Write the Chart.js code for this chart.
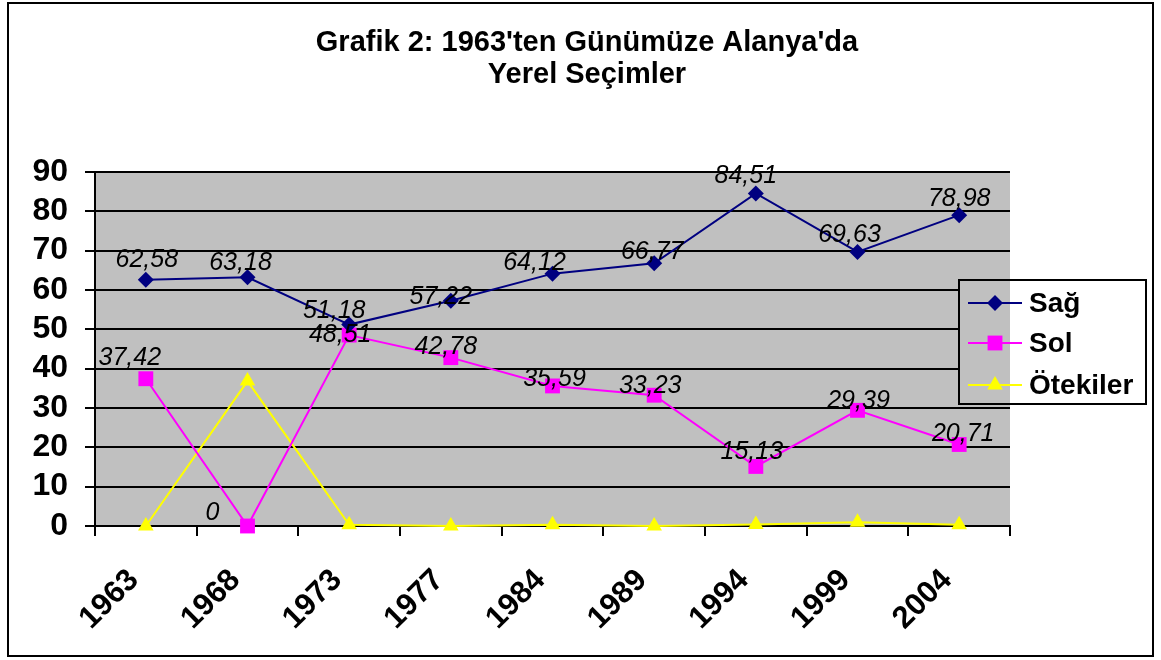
<!DOCTYPE html>
<html>
<head>
<meta charset="utf-8">
<script src="https://cdn.jsdelivr.net/npm/chart.js@4.4.1/dist/chart.umd.min.js"></script>
<style>
  body { margin: 0; background: #fff; }
  #wrap { width: 1161px; height: 660px; }
</style>
</head>
<body>
<div id="wrap"><canvas id="chart"></canvas></div>
<script>
const years = ['1963', '1968', '1973', '1977', '1984', '1989', '1994', '1999', '2004'];
const sag = [62.58, 63.18, 51.18, 57.22, 64.12, 66.77, 84.51, 69.63, 78.98];
const sol = [37.42, 0, 48.51, 42.78, 35.59, 33.23, 15.13, 29.39, 20.71];
const otekiler = [0, 36.82, 0.31, 0, 0.29, 0, 0.36, 0.98, 0.31];
const seriesNames = ['Sağ', 'Sol', 'Ötekiler'];

// where each value label sits relative to its point (px)
const sagShift = [[1, -20], [-7, -14], [-15, -14], [-10, -4], [-18, -11], [-2, -11], [-10, -17], [-8, -17], [0, -16]];
const solShift = [[-16, -21], [-35, -13], [-9, 0], [-5, -11], [2, -7], [-4, -9], [-4, -14], [1, -9], [4, -10]];

const FONT = '"Liberation Sans", Arial, sans-serif';
Chart.defaults.font.family = FONT;
Chart.defaults.color = '#000';

function marker(ctx, style, x, y, r) {
  ctx.beginPath();
  if (style === 'rectRot') {
    ctx.moveTo(x - r, y); ctx.lineTo(x, y - r); ctx.lineTo(x + r, y); ctx.lineTo(x, y + r);
  } else if (style === 'rect') {
    const s = r * Math.SQRT1_2;
    ctx.rect(x - s, y - s, 2 * s, 2 * s);
  } else {
    ctx.moveTo(x, y - r);
    ctx.lineTo(x + r * 0.866, y + r / 2);
    ctx.lineTo(x - r * 0.866, y + r / 2);
  }
  ctx.closePath();
  ctx.fill();
}

const frame = {
  id: 'frame',
  beforeDraw(chart) {
    const { ctx, chartArea: a } = chart;
    ctx.save();
    ctx.fillStyle = '#c0c0c0';
    ctx.fillRect(a.left, a.top, a.right - a.left, a.bottom - a.top);
    ctx.restore();
  },
  afterDraw(chart) {
    const { ctx, chartArea: a } = chart;
    ctx.save();
    // legend box, drawn over the plot like the original
    const lx = 959, ly = 280, lw = 187, lh = 124;
    ctx.fillStyle = '#fff';
    ctx.fillRect(lx, ly, lw, lh);
    ctx.fillStyle = '#c0c0c0';
    ctx.fillRect(lx, ly, a.right - lx, lh);
    ctx.strokeStyle = '#000';
    ctx.lineWidth = 2;
    ctx.strokeRect(lx, ly, lw, lh);
    const rows = [303, 343, 385];
    chart.data.datasets.forEach((ds, i) => {
      const y = rows[i];
      ctx.strokeStyle = ds.borderColor;
      ctx.lineWidth = 2;
      ctx.beginPath(); ctx.moveTo(968, y); ctx.lineTo(1022, y); ctx.stroke();
      ctx.fillStyle = ds.backgroundColor;
      marker(ctx, ds.pointStyle, 995, y, ds.pointRadius);
      ctx.fillStyle = '#000';
      ctx.font = 'bold 28px ' + FONT;
      ctx.textBaseline = 'middle';
      ctx.fillText(ds.label, 1029, y + 1);
    });
    // outer frame
    ctx.strokeStyle = '#000';
    ctx.lineWidth = 2;
    ctx.strokeRect(8, 3, 1145, 653);
    ctx.restore();
  }
};

const valueLabels = {
  id: 'valueLabels',
  afterDatasetsDraw(chart) {
    const ctx = chart.ctx;
    ctx.save();
    ctx.font = 'italic 25px ' + FONT;
    ctx.fillStyle = '#000';
    ctx.textAlign = 'center';
    ctx.textBaseline = 'middle';
    [[0, sagShift], [1, solShift]].forEach(([di, shift]) => {
      const meta = chart.getDatasetMeta(di);
      meta.data.forEach((pt, i) => {
        const txt = String(chart.data.datasets[di].data[i]).replace('.', ',');
        ctx.fillText(txt, pt.x + shift[i][0], pt.y + shift[i][1]);
      });
    });
    ctx.restore();
  }
};

new Chart(document.getElementById('chart').getContext('2d'), {
  type: 'line',
  data: {
    labels: years,
    datasets: [
      { label: seriesNames[0], data: sag, borderColor: '#000080', backgroundColor: '#000080',
        pointStyle: 'rectRot', pointRadius: 8, borderWidth: 2, pointBorderWidth: 0, clip: false },
      { label: seriesNames[1], data: sol, borderColor: '#ff00ff', backgroundColor: '#ff00ff',
        pointStyle: 'rect', pointRadius: 10.5, borderWidth: 2, pointBorderWidth: 0, clip: false },
      { label: seriesNames[2], data: otekiler, borderColor: '#ffff00', backgroundColor: '#ffff00',
        pointStyle: 'triangle', pointRadius: 9, borderWidth: 2, pointBorderWidth: 0, clip: false }
    ]
  },
  options: {
    responsive: true,
    maintainAspectRatio: false,
    animation: false,
    layout: { padding: { left: 13, right: 0, top: 0, bottom: 0 } },
    plugins: {
      legend: { display: false },
      tooltip: { enabled: false },
      title: {
        display: true,
        text: ["Grafik 2: 1963'ten Günümüze Alanya'da", 'Yerel Seçimler'],
        font: { size: 29, weight: 'bold', lineHeight: 1.1 },
        color: '#000',
        padding: { top: 27, bottom: 81 }
      }
    },
    scales: {
      x: {
        offset: true,
        grid: { offset: true, drawOnChartArea: false, color: '#000', lineWidth: 2, tickLength: 10 },
        border: { color: '#000', width: 2 },
        ticks: { font: { size: 31, weight: 'bold' }, color: '#000', maxRotation: 45, minRotation: 45,
          autoSkip: false, padding: 26, labelOffset: -12 },
        afterFit(scale) { scale.height = 134; }
      },
      y: {
        min: 0, max: 90,
        ticks: { stepSize: 10, autoSkip: false, maxTicksLimit: 11,
          font: { size: 32, weight: 'bold', lineHeight: 1 }, color: '#000', padding: 17 },
        grid: { color: '#000', lineWidth: 2, tickLength: 10 },
        border: { color: '#000', width: 2 },
        afterFit(scale) { scale.width = 82; }
      },
      y2: {
        position: 'right',
        grid: { display: false },
        ticks: { display: false },
        border: { display: false },
        afterFit(scale) { scale.width = 151; }
      }
    }
  },
  plugins: [frame, valueLabels]
});
</script>
</body>
</html>
